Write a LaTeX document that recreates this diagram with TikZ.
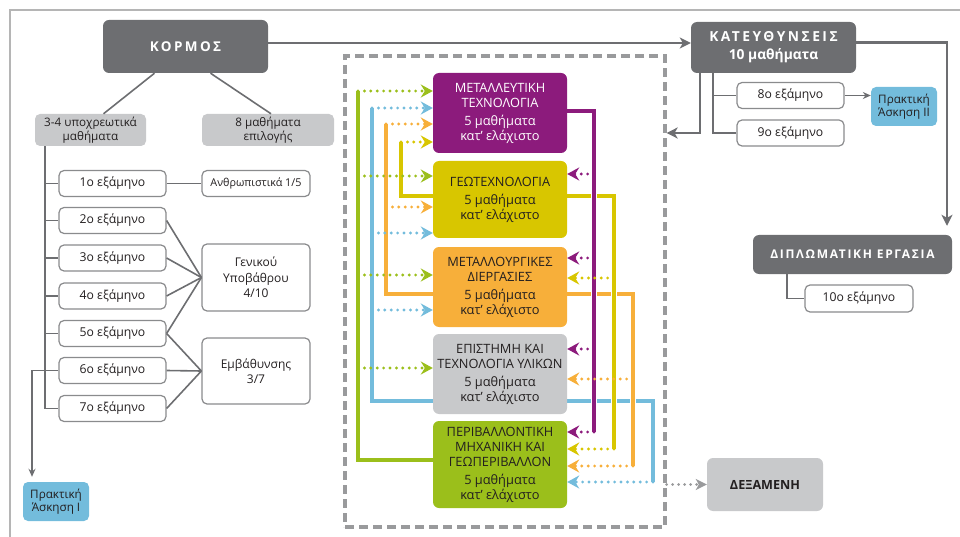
\documentclass[tikz,border=0pt]{standalone}
\usepackage{fontspec}
\setmainfont{Open Sans}
\newfontfamily\spacedA[LetterSpace=18]{Open Sans}
\newfontfamily\spacedB[LetterSpace=14]{Open Sans}
\usetikzlibrary{arrows.meta,backgrounds,calc}
\definecolor{dgray}{HTML}{6D6E71}
\definecolor{lgray}{HTML}{C8C9CB}
\definecolor{bordergray}{HTML}{8A8B8D}
\definecolor{framegray}{HTML}{B5B5B5}
\definecolor{dashgray}{HTML}{999A9C}
\definecolor{cpurple}{HTML}{8C1B7C}
\definecolor{cyellow}{HTML}{D8C600}
\definecolor{corange}{HTML}{F7AF3A}
\definecolor{cgreen}{HTML}{9BBF1B}
\definecolor{cblue}{HTML}{73BCDC}
\definecolor{txt}{HTML}{231F20}
\begin{document}
\begin{tikzpicture}[x=1pt,y=-1pt,
  font=\fontsize{12.2}{14}\selectfont, text=txt,
  darkbox/.style={rectangle, rounded corners=6pt, fill=dgray, text=white, align=center, inner sep=0pt},
  greybox/.style={rectangle, rounded corners=5pt, fill=lgray, align=center, inner sep=0pt, minimum height=32pt, font=\fontsize{11.7}{13.5}\selectfont},
  sembox/.style={rectangle, rounded corners=5pt, draw=bordergray, line width=1.2pt, fill=white, align=center, inner sep=0pt, minimum width=107pt, minimum height=26pt},
  choicebox/.style={sembox, minimum width=108pt, font=\fontsize{12}{15.5}\selectfont},
  bluebox/.style={rectangle, rounded corners=5pt, fill=cblue, align=center, inner sep=0pt, minimum width=66pt, minimum height=39pt, font=\fontsize{11.7}{13.5}\selectfont},
  trackbox/.style={rectangle, rounded corners=6pt, fill=#1, align=center, inner sep=0pt, minimum width=134pt, font=\fontsize{12.8}{15}\selectfont},
  dashbox/.style={draw=dashgray, line width=3.2pt, dash pattern=on 9pt off 5pt, inner sep=0pt},
  gline/.style={draw=dgray, line width=1.6pt},
  gthick/.style={draw=dgray, line width=2.6pt},
  garrow/.style={-{Stealth[length=8pt,width=7pt]}},
  bigarrow/.style={-{Stealth[length=11pt,width=11pt,inset=3pt]}},
  cl/.style={draw=#1, line width=3.2pt, preaction={draw=white, line width=5.8pt}},
  cd/.style={draw=#1, line width=3.2pt, dash pattern=on 0pt off 6.4pt, line cap=round, -{Stealth[length=12pt,width=13pt,inset=4pt]}},
]
\useasboundingbox (0,0) rectangle (960,537);
\draw[framegray, line width=2pt] (960,10) -- (10,10) -- (10,537);

% ---------- left: core ----------
\node[darkbox, minimum width=165pt, minimum height=53pt] (korm) at (185.5,46.5) {\spacedA\bfseries\fontsize{13.5}{16}\selectfont ΚΟΡΜΟΣ};
\node[greybox, minimum width=111pt] (oblig) at (90.5,130) {3-4 υποχρεωτικά\\μαθήματα};
\node[greybox, minimum width=132pt] (elect) at (268,130) {8 μαθήματα\\επιλογής};
\foreach \i/\y in {1/183.5, 2/220.5, 3/258, 4/296, 5/333.5, 6/370.5, 7/408.5}
  \node[sembox] (s\i) at (112.5,\y) {\i ο εξάμηνο};
\node[choicebox, minimum height=26pt, font=\fontsize{10.8}{13}\selectfont] (anth) at (256,183.5) {Ανθρωπιστικά 1/5};
\node[choicebox, minimum height=67pt] (gen) at (256,277.5) {Γενικού\\Υποβάθρου\\4/10};
\node[choicebox, minimum height=66pt] (emv) at (256,371) {Εμβάθυνσης\\3/7};
\node[bluebox] (prak1) at (56,501.5) {Πρακτική\\Άσκηση Ι};

% ---------- right ----------
\node[darkbox, minimum width=165pt, minimum height=51pt, font=\bfseries\fontsize{13.8}{18}\selectfont] (kat) at (773.5,47.5) {{\spacedA ΚΑΤΕΥΘΥΝΣΕΙΣ}\\10 μαθήματα};
\node[sembox] (s8) at (790.5,95.5) {8ο εξάμηνο};
\node[sembox] (s9) at (790.5,133) {9ο εξάμηνο};
\node[bluebox] (prak2) at (904,106.5) {Πρακτική\\Άσκηση ΙΙ};
\node[darkbox, minimum width=199pt, minimum height=39pt] (dipl) at (852.5,254.5) {\spacedB\bfseries\fontsize{12}{14}\selectfont ΔΙΠΛΩΜΑΤΙΚΗ ΕΡΓΑΣΙΑ};
\node[sembox, minimum width=108pt, minimum height=27pt] (s10) at (859,298.5) {10ο εξάμηνο};
\node[rectangle, rounded corners=6pt, fill=lgray, minimum width=116pt, minimum height=53pt, font=\bfseries\fontsize{12.6}{15}\selectfont] (dex) at (765,484.5) {ΔΕΞΑΜΕΝΗ};

% ---------- centre ----------
\node[dashbox, minimum width=320pt, minimum height=471pt] (dbox) at (505,291.5) {};
\node[trackbox=cpurple, minimum height=80pt, text=white] (met) at (500,113) {ΜΕΤΑΛΛΕΥΤΙΚΗ\\ΤΕΧΝΟΛΟΓΙΑ\\[3pt]5 μαθήματα\\κατ’ ελάχιστο};
\node[trackbox=cyellow, minimum height=77pt] (geo) at (500,199.5) {ΓΕΩΤΕΧΝΟΛΟΓΙΑ\\[3pt]5 μαθήματα\\κατ’ ελάχιστο};
\node[trackbox=corange, minimum height=80pt] (mtl) at (500,287) {ΜΕΤΑΛΛΟΥΡΓΙΚΕΣ\\ΔΙΕΡΓΑΣΙΕΣ\\[3pt]5 μαθήματα\\κατ’ ελάχιστο};
\node[trackbox=lgray, minimum height=80pt] (epi) at (500,374) {ΕΠΙΣΤΗΜΗ ΚΑΙ\\ΤΕΧΝΟΛΟΓΙΑ ΥΛΙΚΩΝ\\[3pt]5 μαθήματα\\κατ’ ελάχιστο};
\node[trackbox=cgreen, minimum height=87pt] (per) at (500,464.5) {ΠΕΡΙΒΑΛΛΟΝΤΙΚΗ\\ΜΗΧΑΝΙΚΗ ΚΑΙ\\ΓΕΩΠΕΡΙΒΑΛΛΟΝ\\[3pt]5 μαθήματα\\κατ’ ελάχιστο};

% ---------- grey connectors ----------
\draw[gline] ([xshift=-31pt]korm.south) -- ([xshift=13pt]oblig.north);
\draw[gline] ([xshift=25pt]korm.south) -- ([xshift=3pt]elect.north);
\coordinate (tr) at (45,0);
\draw[gline] (oblig.south -| tr) |- (s7.west);
\foreach \i in {1,...,6} \draw[gline] (s\i.west -| tr) -- (s\i.west);
\draw[gline] (s1.east) -- (anth.west);
\foreach \i in {2,...,5} \draw[gline] (s\i.east) -- (gen.west);
\foreach \i in {5,6,7} \draw[gline] (s\i.east) -- (emv.west);
\coordinate (p1) at (32,0);
\draw[gline, garrow, shorten >=5pt] (s6.west) -| (p1 |- prak1.north);

\draw[gthick, bigarrow] ([yshift=3.5pt]korm.east) -- ([yshift=4.5pt]kat.west);
\coordinate (dx) at (947,0);
\draw[gthick, bigarrow, shorten >=9pt] ([yshift=5pt]kat.east) -| (dx |- dipl.north);
\coordinate (kx1) at (700,0);
\coordinate (ky) at (0,133);
\draw[gthick, bigarrow] (kat.south -| kx1) |- (dbox.east |- ky);
\coordinate (kx2) at (713,0);
\draw[gline] (kat.south -| kx2) |- (s9.west);
\draw[gline] (s8.west -| kx2) -- (s8.west);
\draw[gline, garrow] (s8.east) -- (prak2.west |- s8.east);
\coordinate (dx2) at (787,0);
\draw[gline] (dipl.south -| dx2) |- (s10.west);
\draw[dashgray, line width=2.8pt, dash pattern=on 0pt off 6pt, line cap=round, -{Stealth[length=11pt,width=11pt,inset=3pt]}] (dbox.east |- dex.west) -- (dex.west);

% ---------- coloured routes ----------
\begin{pgfonlayer}{background}
\draw[cl=cgreen] ([yshift=4.5pt]per.west) -| (358,91);
\draw[cl=cblue] ([yshift=-27pt]epi.west) -| (372,108);
\draw[cl=corange] ([yshift=-7pt]mtl.west) -| (386,124);
\draw[cl=cyellow] ([yshift=3.5pt]geo.west) -| (401,142);
\draw[cl=cblue] ([yshift=-27pt]epi.east) -| (653,482);
\draw[cl=corange] ([yshift=-7pt]mtl.east) -| (633,466);
\draw[cl=cyellow] ([yshift=3.5pt]geo.east) -| (614,449);
\draw[cl=cpurple] ([yshift=2pt]met.east) -| (594,432);
\end{pgfonlayer}

% left-side dotted arrows
\draw[cd=cgreen] (358,91) -- (met.west |- 0,91);
\draw[cd=cgreen] (358,176) -- (geo.west |- 0,176);
\draw[cd=cgreen] (358,275) -- (mtl.west |- 0,275);
\draw[cd=cgreen] (358,368) -- (epi.west |- 0,368);
\draw[cd=cblue] (372,108) -- (met.west |- 0,108);
\draw[cd=cblue] (372,233) -- (geo.west |- 0,233);
\draw[cd=cblue] (372,310) -- (mtl.west |- 0,310);
\draw[cd=corange] (386,124) -- (met.west |- 0,124);
\draw[cd=corange] (386,207) -- (geo.west |- 0,207);
\draw[cd=cyellow] (401,142) -- (met.west |- 0,142);
% right-side dotted arrows
\draw[cd=cpurple] (594,174) -- (geo.east |- 0,174);
\draw[cd=cpurple] (594,258) -- (mtl.east |- 0,258);
\draw[cd=cpurple] (594,349) -- (epi.east |- 0,349);
\draw[cd=cpurple] (594,432) -- (per.east |- 0,432);
\draw[cd=cyellow] (614,278) -- (mtl.east |- 0,278);
\draw[cd=cyellow] (614,449) -- (per.east |- 0,449);
\draw[cd=corange] (633,379) -- (epi.east |- 0,379);
\draw[cd=corange] (633,466) -- (per.east |- 0,466);
\draw[cd=cblue] (653,482) -- (per.east |- 0,482);
\end{tikzpicture}
\end{document}
